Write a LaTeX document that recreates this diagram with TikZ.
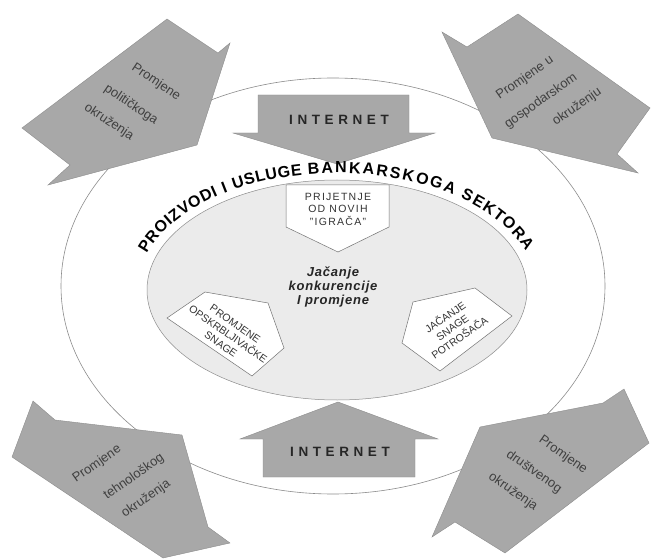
\documentclass[tikz,border=0pt]{standalone}
\usepackage{fontspec}
\setmainfont{Liberation Sans}
\definecolor{arrowgray}{gray}{0.66}
\definecolor{innergray}{gray}{0.92}
\definecolor{linegray}{gray}{0.55}
\definecolor{textgray}{gray}{0.25}
\newcommand\titlefont{\fontsize{16}{16}\selectfont\bfseries}
\begin{document}
\begin{tikzpicture}[x=1pt,y=-1pt,
  bigarrow/.style={fill=arrowgray, draw=black!45, line width=0.4pt, line join=miter},
  cornertext/.style={font=\fontsize{13}{15}\selectfont, text=textgray, inner sep=0pt},
  nettext/.style={font=\fontsize{13.5}{15}\selectfont\bfseries\addfontfeature{LetterSpace=34}, text=black!85, inner sep=0pt},
  boxshape/.style={fill=white, draw=black!55, line width=0.5pt},
  boxtext/.style={font=\fontsize{10.5}{12.5}\selectfont, text=black!80, align=center, inner sep=0pt},
  titlechar/.style={font=\titlefont, anchor=base, inner sep=0pt},
  centertext/.style={font=\fontsize{13}{14}\selectfont\bfseries\itshape\addfontfeature{LetterSpace=6}, align=center, inner sep=0pt, text=black!85}]
\useasboundingbox (0,0) rectangle (651,559);
\fill[white] (0,0) rectangle (651,559);
% outer ellipse
\draw[linegray, line width=0.6pt, fill=white] (333,286) ellipse [x radius=272, y radius=208];
% corner arrows
\draw[bigarrow] (197,145) -- (230,43) -- (218,53) -- (167,19) -- (22,128) -- (70,165) -- (48,185) -- cycle;
\draw[bigarrow] (492,138) -- (442,32) -- (467,47) -- (518,14) -- (650,108) -- (617,154) -- (638,173) -- cycle;
\draw[bigarrow] (182,435) -- (55,420) -- (33,401) -- (12,457) -- (163,558) -- (230,543) -- (208,527) -- cycle;
\draw[bigarrow] (480,427) -- (603,403) -- (624,389) -- (649,443) -- (505,553) -- (455,522) -- (432,537) -- cycle;
% inner ellipse
\draw[linegray, line width=0.5pt, fill=innergray] (337,290) ellipse [x radius=190, y radius=110];
% internet arrows
\draw[bigarrow] (258,95) -- (409,95) -- (409,133) -- (435,133) -- (337,164) -- (233,133) -- (258,133) -- cycle;
\draw[bigarrow] (338,402) -- (438,439) -- (415,439) -- (415,477) -- (263,477) -- (263,439) -- (240,439) -- cycle;
\node[nettext] (net1) at (339,120) {INTERNET};
\node[nettext] (net2) at (340,452) {INTERNET};
% arched title, letter by letter along an ellipse (angle from the top)
\foreach \ch/\ph [count=\i] in {P/-69.71, R/-64.67, O/-59.38, I/-55.80, Z/-52.73, V/-48.69, O/-44.40, D/-40.03, I/-37.16,
  I/-33.64, U/-29.17, S/-25.56, L/-22.22, U/-18.87, G/-15.15, E/-11.57,
  B/-6.63, A/-2.74, N/1.14, K/5.03, A/8.93, R/12.90, S/16.71, K/20.60, O/24.85, G/29.26, A/33.74,
  S/39.86, E/44.00, K/48.31, T/52.69, O/57.41, R/62.71, A/68.07}{
  \pgfmathsetmacro\chx{337+200*sin(\ph)}
  \pgfmathsetmacro\chy{290-117*cos(\ph)}
  \pgfmathsetmacro\chr{atan2(-1.17*sin(\ph),2*cos(\ph))}
  \node[titlechar, rotate=\chr] (ttl\i) at (\chx,\chy) {\ch};
}
% inner boxes
\draw[boxshape] (286,185) -- (389,185) -- (389,227) -- (338,252) -- (286,227) -- cycle;
\node[boxtext, font=\fontsize{10.5}{12.5}\selectfont\addfontfeature{LetterSpace=12}] (prijetnje) at (338,209) {PRIJETNJE\\OD NOVIH\\"IGRAČA"};
\draw[boxshape] (205,292) -- (268,303) -- (284,348) -- (252,376) -- (167,318) -- cycle;
\node[boxtext, rotate=-35] (opskrba) at (228,334) {PROMJENE\\OPSKRBLJIVAČKE\\SNAGE};
\draw[boxshape] (413,302) -- (475,288) -- (512,316) -- (440,371) -- (402,343) -- cycle;
\node[boxtext, rotate=35] (potrosaci) at (452,327) {JAČANJE\\SNAGE\\POTROŠAČA};
% center text
\node[centertext] (jacanje) at (333,287) {Jačanje\\konkurencije\\I promjene};
% corner texts
\node[cornertext, rotate=-34] (tl1) at (156,82) {Promjene};
\node[cornertext, rotate=-34] (tl2) at (131,105) {političkoga};
\node[cornertext, rotate=-34] (tl3) at (109,122) {okruženja};
\node[cornertext, rotate=35] (tr1) at (525,78) {Promjene u};
\node[cornertext, rotate=35] (tr2) at (541,101) {gospodarskom};
\node[cornertext, rotate=35] (tr3) at (577,107) {okruženju};
\node[cornertext, rotate=35] (bl1) at (97,464) {Promjene};
\node[cornertext, rotate=35] (bl2) at (134,477) {tehnološkog};
\node[cornertext, rotate=35] (bl3) at (146,499) {okruženja};
\node[cornertext, rotate=-35] (br1) at (563,455) {Promjene};
\node[cornertext, rotate=-35] (br2) at (534,472) {društvenog};
\node[cornertext, rotate=-35] (br3) at (513,492) {okruženja};
\end{tikzpicture}
\end{document}
